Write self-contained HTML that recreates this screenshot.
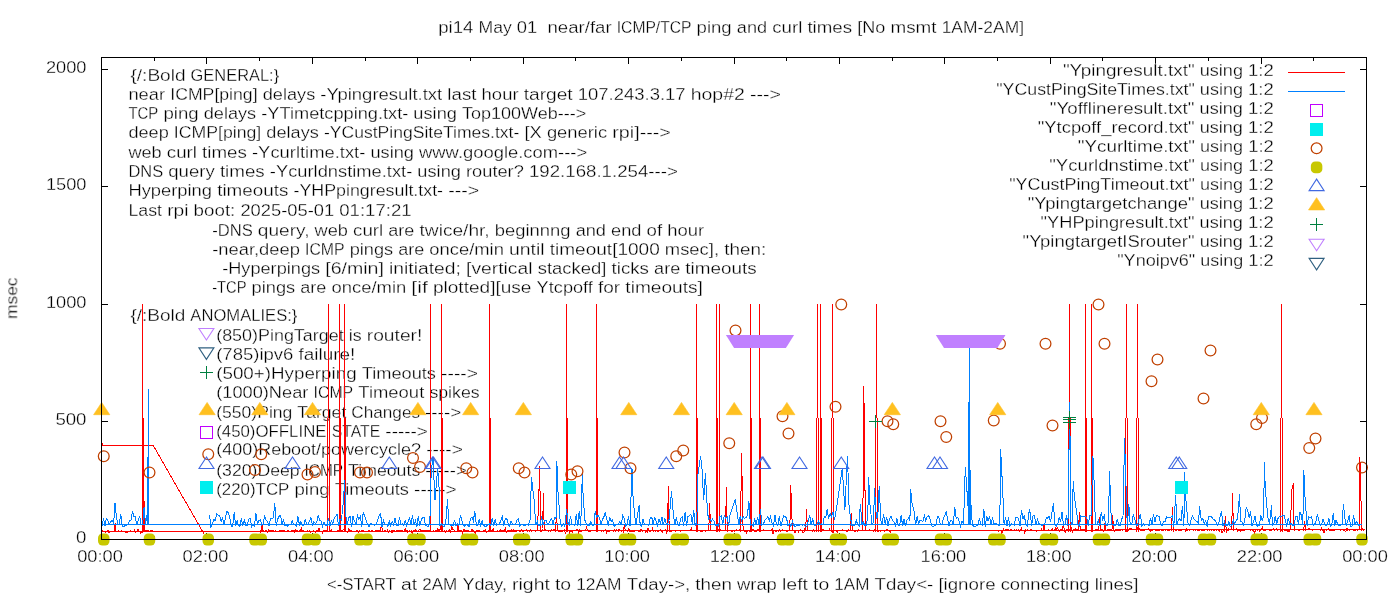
<!DOCTYPE html><html><head><meta charset="utf-8"><title>plot</title>
<style>html,body{margin:0;padding:0;background:#fff;overflow:hidden}svg{display:block}text{font-family:"Liberation Sans",sans-serif;font-size:16.8px;fill:#000;stroke:#fff;stroke-width:0.3px;paint-order:fill stroke}</style></head><body>
<svg width="1400" height="600" viewBox="0 0 1400 600">
<rect width="1400" height="600" fill="#fff"/>
<defs><mask id="m" maskUnits="userSpaceOnUse" x="0" y="0" width="1400" height="600"><rect width="1400" height="600" fill="#fff"/></mask></defs>
<g mask="url(#m)">
<g id="labels">
<text x="130.45" y="80.50" textLength="55.14" lengthAdjust="spacingAndGlyphs">{/:Bold</text>
<text x="190.58" y="80.50" textLength="88.57" lengthAdjust="spacingAndGlyphs">GENERAL:}</text>
<text x="128.45" y="99.75" textLength="36.64" lengthAdjust="spacingAndGlyphs">near</text>
<text x="170.22" y="99.75" textLength="87.40" lengthAdjust="spacingAndGlyphs">ICMP[ping]</text>
<text x="262.76" y="99.75" textLength="52.46" lengthAdjust="spacingAndGlyphs">delays</text>
<text x="320.35" y="99.75" textLength="121.89" lengthAdjust="spacingAndGlyphs">-Ypingresult.txt</text>
<text x="447.37" y="99.75" textLength="29.10" lengthAdjust="spacingAndGlyphs">last</text>
<text x="481.61" y="99.75" textLength="36.93" lengthAdjust="spacingAndGlyphs">hour</text>
<text x="523.66" y="99.75" textLength="49.03" lengthAdjust="spacingAndGlyphs">target</text>
<text x="577.82" y="99.75" textLength="107.76" lengthAdjust="spacingAndGlyphs">107.243.3.17</text>
<text x="690.71" y="99.75" textLength="54.08" lengthAdjust="spacingAndGlyphs">hop#2</text>
<text x="749.92" y="99.75" textLength="30.98" lengthAdjust="spacingAndGlyphs">---&gt;</text>
<text x="128.45" y="119.00" textLength="29.88" lengthAdjust="spacingAndGlyphs">TCP</text>
<text x="163.46" y="119.00" textLength="35.15" lengthAdjust="spacingAndGlyphs">ping</text>
<text x="203.74" y="119.00" textLength="52.45" lengthAdjust="spacingAndGlyphs">delays</text>
<text x="261.32" y="119.00" textLength="146.94" lengthAdjust="spacingAndGlyphs">-YTimetcpping.txt-</text>
<text x="413.39" y="119.00" textLength="43.54" lengthAdjust="spacingAndGlyphs">using</text>
<text x="462.06" y="119.00" textLength="124.09" lengthAdjust="spacingAndGlyphs">Top100Web---&gt;</text>
<text x="128.45" y="138.25" textLength="40.29" lengthAdjust="spacingAndGlyphs">deep</text>
<text x="173.87" y="138.25" textLength="87.39" lengthAdjust="spacingAndGlyphs">ICMP[ping]</text>
<text x="266.38" y="138.25" textLength="52.45" lengthAdjust="spacingAndGlyphs">delays</text>
<text x="323.96" y="138.25" textLength="195.36" lengthAdjust="spacingAndGlyphs">-YCustPingSiteTimes.txt-</text>
<text x="524.45" y="138.25" textLength="17.34" lengthAdjust="spacingAndGlyphs">[X</text>
<text x="546.92" y="138.25" textLength="60.24" lengthAdjust="spacingAndGlyphs">generic</text>
<text x="612.30" y="138.25" textLength="58.60" lengthAdjust="spacingAndGlyphs">rpi]---&gt;</text>
<text x="128.45" y="157.50" textLength="33.28" lengthAdjust="spacingAndGlyphs">web</text>
<text x="166.85" y="157.50" textLength="30.14" lengthAdjust="spacingAndGlyphs">curl</text>
<text x="202.11" y="157.50" textLength="44.77" lengthAdjust="spacingAndGlyphs">times</text>
<text x="252.00" y="157.50" textLength="113.35" lengthAdjust="spacingAndGlyphs">-Ycurltime.txt-</text>
<text x="370.47" y="157.50" textLength="43.48" lengthAdjust="spacingAndGlyphs">using</text>
<text x="419.07" y="157.50" textLength="168.08" lengthAdjust="spacingAndGlyphs">www.google.com---&gt;</text>
<text x="128.45" y="176.75" textLength="34.70" lengthAdjust="spacingAndGlyphs">DNS</text>
<text x="168.28" y="176.75" textLength="46.51" lengthAdjust="spacingAndGlyphs">query</text>
<text x="219.92" y="176.75" textLength="44.83" lengthAdjust="spacingAndGlyphs">times</text>
<text x="269.88" y="176.75" textLength="142.36" lengthAdjust="spacingAndGlyphs">-Ycurldnstime.txt-</text>
<text x="417.37" y="176.75" textLength="43.54" lengthAdjust="spacingAndGlyphs">using</text>
<text x="466.04" y="176.75" textLength="57.78" lengthAdjust="spacingAndGlyphs">router?</text>
<text x="528.95" y="176.75" textLength="148.95" lengthAdjust="spacingAndGlyphs">192.168.1.254---&gt;</text>
<text x="128.45" y="196.00" textLength="83.58" lengthAdjust="spacingAndGlyphs">Hyperping</text>
<text x="217.16" y="196.00" textLength="71.24" lengthAdjust="spacingAndGlyphs">timeouts</text>
<text x="293.52" y="196.00" textLength="149.53" lengthAdjust="spacingAndGlyphs">-YHPpingresult.txt-</text>
<text x="448.18" y="196.00" textLength="30.97" lengthAdjust="spacingAndGlyphs">---&gt;</text>
<text x="128.45" y="215.50" textLength="33.58" lengthAdjust="spacingAndGlyphs">Last</text>
<text x="167.16" y="215.50" textLength="21.33" lengthAdjust="spacingAndGlyphs">rpi</text>
<text x="193.62" y="215.50" textLength="41.70" lengthAdjust="spacingAndGlyphs">boot:</text>
<text x="240.45" y="215.50" textLength="93.69" lengthAdjust="spacingAndGlyphs">2025-05-01</text>
<text x="339.26" y="215.50" textLength="72.39" lengthAdjust="spacingAndGlyphs">01:17:21</text>
<text x="212.20" y="235.50" textLength="40.51" lengthAdjust="spacingAndGlyphs">-DNS</text>
<text x="257.84" y="235.50" textLength="51.63" lengthAdjust="spacingAndGlyphs">query,</text>
<text x="314.60" y="235.50" textLength="33.32" lengthAdjust="spacingAndGlyphs">web</text>
<text x="353.05" y="235.50" textLength="30.17" lengthAdjust="spacingAndGlyphs">curl</text>
<text x="388.35" y="235.50" textLength="26.07" lengthAdjust="spacingAndGlyphs">are</text>
<text x="419.55" y="235.50" textLength="70.15" lengthAdjust="spacingAndGlyphs">twice/hr,</text>
<text x="494.82" y="235.50" textLength="75.70" lengthAdjust="spacingAndGlyphs">beginnng</text>
<text x="575.65" y="235.50" textLength="30.32" lengthAdjust="spacingAndGlyphs">and</text>
<text x="611.10" y="235.50" textLength="30.35" lengthAdjust="spacingAndGlyphs">end</text>
<text x="646.57" y="235.50" textLength="15.54" lengthAdjust="spacingAndGlyphs">of</text>
<text x="667.24" y="235.50" textLength="36.91" lengthAdjust="spacingAndGlyphs">hour</text>
<text x="212.20" y="254.75" textLength="87.68" lengthAdjust="spacingAndGlyphs">-near,deep</text>
<text x="305.00" y="254.75" textLength="39.55" lengthAdjust="spacingAndGlyphs">ICMP</text>
<text x="349.67" y="254.75" textLength="43.46" lengthAdjust="spacingAndGlyphs">pings</text>
<text x="398.25" y="254.75" textLength="26.02" lengthAdjust="spacingAndGlyphs">are</text>
<text x="429.39" y="254.75" textLength="74.52" lengthAdjust="spacingAndGlyphs">once/min</text>
<text x="509.03" y="254.75" textLength="35.64" lengthAdjust="spacingAndGlyphs">until</text>
<text x="549.79" y="254.75" textLength="109.93" lengthAdjust="spacingAndGlyphs">timeout[1000</text>
<text x="664.84" y="254.75" textLength="54.19" lengthAdjust="spacingAndGlyphs">msec],</text>
<text x="724.15" y="254.75" textLength="42.00" lengthAdjust="spacingAndGlyphs">then:</text>
<text x="222.20" y="273.50" textLength="97.89" lengthAdjust="spacingAndGlyphs">-Hyperpings</text>
<text x="325.22" y="273.50" textLength="58.73" lengthAdjust="spacingAndGlyphs">[6/min]</text>
<text x="389.09" y="273.50" textLength="71.84" lengthAdjust="spacingAndGlyphs">initiated;</text>
<text x="466.07" y="273.50" textLength="66.47" lengthAdjust="spacingAndGlyphs">[vertical</text>
<text x="537.67" y="273.50" textLength="68.74" lengthAdjust="spacingAndGlyphs">stacked]</text>
<text x="611.54" y="273.50" textLength="37.44" lengthAdjust="spacingAndGlyphs">ticks</text>
<text x="654.11" y="273.50" textLength="26.10" lengthAdjust="spacingAndGlyphs">are</text>
<text x="685.35" y="273.50" textLength="71.30" lengthAdjust="spacingAndGlyphs">timeouts</text>
<text x="212.20" y="292.75" textLength="34.24" lengthAdjust="spacingAndGlyphs">-TCP</text>
<text x="251.57" y="292.75" textLength="43.58" lengthAdjust="spacingAndGlyphs">pings</text>
<text x="300.28" y="292.75" textLength="26.09" lengthAdjust="spacingAndGlyphs">are</text>
<text x="331.50" y="292.75" textLength="74.72" lengthAdjust="spacingAndGlyphs">once/min</text>
<text x="411.35" y="292.75" textLength="16.47" lengthAdjust="spacingAndGlyphs">[if</text>
<text x="432.95" y="292.75" textLength="98.54" lengthAdjust="spacingAndGlyphs">plotted][use</text>
<text x="536.62" y="292.75" textLength="56.27" lengthAdjust="spacingAndGlyphs">Ytcpoff</text>
<text x="598.02" y="292.75" textLength="22.18" lengthAdjust="spacingAndGlyphs">for</text>
<text x="625.33" y="292.75" textLength="77.57" lengthAdjust="spacingAndGlyphs">timeouts]</text>
<text x="130.45" y="321.00" textLength="54.95" lengthAdjust="spacingAndGlyphs">{/:Bold</text>
<text x="190.37" y="321.00" textLength="107.03" lengthAdjust="spacingAndGlyphs">ANOMALIES:}</text>
<text x="216.20" y="340.50" textLength="127.44" lengthAdjust="spacingAndGlyphs">(850)PingTarget</text>
<text x="348.76" y="340.50" textLength="12.88" lengthAdjust="spacingAndGlyphs">is</text>
<text x="366.76" y="340.50" textLength="55.64" lengthAdjust="spacingAndGlyphs">router!</text>
<text x="216.20" y="360.00" textLength="77.21" lengthAdjust="spacingAndGlyphs">(785)ipv6</text>
<text x="298.49" y="360.00" textLength="56.91" lengthAdjust="spacingAndGlyphs">failure!</text>
<text x="216.20" y="378.75" textLength="140.41" lengthAdjust="spacingAndGlyphs">(500+)Hyperping</text>
<text x="361.74" y="378.75" textLength="74.25" lengthAdjust="spacingAndGlyphs">Timeouts</text>
<text x="441.12" y="378.75" textLength="36.78" lengthAdjust="spacingAndGlyphs">----&gt;</text>
<text x="216.20" y="397.50" textLength="92.19" lengthAdjust="spacingAndGlyphs">(1000)Near</text>
<text x="313.52" y="397.50" textLength="39.68" lengthAdjust="spacingAndGlyphs">ICMP</text>
<text x="358.34" y="397.50" textLength="65.93" lengthAdjust="spacingAndGlyphs">Timeout</text>
<text x="429.40" y="397.50" textLength="50.25" lengthAdjust="spacingAndGlyphs">spikes</text>
<text x="216.20" y="417.50" textLength="76.15" lengthAdjust="spacingAndGlyphs">(550)Ping</text>
<text x="297.38" y="417.50" textLength="48.91" lengthAdjust="spacingAndGlyphs">Target</text>
<text x="351.32" y="417.50" textLength="68.73" lengthAdjust="spacingAndGlyphs">Changes</text>
<text x="425.08" y="417.50" textLength="36.07" lengthAdjust="spacingAndGlyphs">----&gt;</text>
<text x="216.20" y="436.50" textLength="110.36" lengthAdjust="spacingAndGlyphs">(450)OFFLINE</text>
<text x="331.68" y="436.50" textLength="48.57" lengthAdjust="spacingAndGlyphs">STATE</text>
<text x="385.37" y="436.50" textLength="42.53" lengthAdjust="spacingAndGlyphs">-----&gt;</text>
<text x="216.20" y="455.00" textLength="204.84" lengthAdjust="spacingAndGlyphs">(400)Reboot/powercycle?</text>
<text x="426.17" y="455.00" textLength="36.73" lengthAdjust="spacingAndGlyphs">----&gt;</text>
<text x="216.20" y="475.50" textLength="83.41" lengthAdjust="spacingAndGlyphs">(320)Deep</text>
<text x="304.59" y="475.50" textLength="38.52" lengthAdjust="spacingAndGlyphs">ICMP</text>
<text x="348.09" y="475.50" textLength="72.17" lengthAdjust="spacingAndGlyphs">Timeouts</text>
<text x="425.24" y="475.50" textLength="41.41" lengthAdjust="spacingAndGlyphs">-----&gt;</text>
<text x="216.20" y="494.50" textLength="73.18" lengthAdjust="spacingAndGlyphs">(220)TCP</text>
<text x="294.51" y="494.50" textLength="35.12" lengthAdjust="spacingAndGlyphs">ping</text>
<text x="334.75" y="494.50" textLength="74.20" lengthAdjust="spacingAndGlyphs">Timeouts</text>
<text x="414.08" y="494.50" textLength="42.57" lengthAdjust="spacingAndGlyphs">-----&gt;</text>
</g>
<polygon points="206.40,340.07 198.90,328.57 213.90,328.57" fill="none" stroke="#c080ff" stroke-width="1.1"/>
<polygon points="206.40,359.37 198.90,347.87 213.90,347.87" fill="none" stroke="#306080" stroke-width="1.1"/>
<path d="M200.00 372.50H213.00M206.50 366.00V379.00" stroke="#008040" stroke-width="1" fill="none" shape-rendering="crispEdges"/>
<rect x="200.5" y="426.5" width="12" height="12" fill="none" stroke="#c000ff" stroke-width="1" shape-rendering="crispEdges"/>
<g id="ticks" stroke="#000" stroke-width="1" fill="none" shape-rendering="crispEdges">
<path d="M101.5 57.0v7 M101.5 540.0v-7 M154.5 57.0v4 M154.5 540.0v-4 M206.5 57.0v7 M206.5 540.0v-7 M259.5 57.0v4 M259.5 540.0v-4 M312.5 57.0v7 M312.5 540.0v-7 M365.5 57.0v4 M365.5 540.0v-4 M417.5 57.0v7 M417.5 540.0v-7 M470.5 57.0v4 M470.5 540.0v-4 M523.5 57.0v7 M523.5 540.0v-7 M575.5 57.0v4 M575.5 540.0v-4 M628.5 57.0v7 M628.5 540.0v-7 M681.5 57.0v4 M681.5 540.0v-4 M734.5 57.0v7 M734.5 540.0v-7 M786.5 57.0v4 M786.5 540.0v-4 M839.5 57.0v7 M839.5 540.0v-7 M892.5 57.0v4 M892.5 540.0v-4 M944.5 57.0v7 M944.5 540.0v-7 M997.5 57.0v4 M997.5 540.0v-4 M1050.5 57.0v7 M1050.5 540.0v-7 M1102.5 57.0v4 M1102.5 540.0v-4 M1155.5 57.0v7 M1155.5 540.0v-7 M1208.5 57.0v4 M1208.5 540.0v-4 M1261.5 57.0v7 M1261.5 540.0v-7 M1313.5 57.0v4 M1313.5 540.0v-4 M1366.5 57.0v7 M1366.5 540.0v-7 M101.0 539.5h7 M1367.0 539.5h-7 M101.0 421.5h7 M1367.0 421.5h-7 M101.0 304.5h7 M1367.0 304.5h-7 M101.0 186.5h7 M1367.0 186.5h-7 M101.0 69.5h7 M1367.0 69.5h-7 "/>
</g>
<g id="red">
<polyline points="101.5,440.0 102.5,445.0 153.0,445.0 204.0,534.0" fill="none" stroke="#ff0000" stroke-width="1.0" stroke-linejoin="miter" shape-rendering="crispEdges"/>
<polyline points="101.5,531.7 1364.5,529.6" fill="none" stroke="#ff0000" stroke-width="1.0" stroke-linejoin="miter" shape-rendering="crispEdges"/>
<polyline points="102.0,530.6 102.9,531.5 103.8,531.6 104.6,531.9 105.5,532.1 106.4,531.8 107.3,530.9 108.2,530.7 109.0,533.2 109.9,531.7 110.8,531.3 111.7,531.3 112.6,531.5 113.4,531.2 114.3,531.0 115.2,523.4 116.1,531.8 117.0,531.0 117.8,531.4 118.7,530.9 119.6,531.6 120.5,531.6 121.4,530.7 122.2,531.1 123.1,531.7 124.0,531.7 124.9,530.9 125.8,532.3 126.6,532.6 127.5,532.2 128.4,531.2 129.3,531.5 130.2,530.8 131.0,531.7 131.9,531.4 132.8,531.6 133.7,531.2 134.6,530.0 135.4,532.7 136.3,531.4 137.2,530.9 138.1,528.9 139.0,531.1 139.8,531.1 140.7,532.8 141.6,531.5 142.5,532.4 143.5,419.0 144.2,531.4 145.1,531.3 146.0,530.8 146.9,530.8 147.8,530.4 148.6,531.0 149.5,531.7 150.4,531.0 151.3,531.5 152.2,530.2" fill="none" stroke="#ff0000" stroke-width="1.0" stroke-linejoin="miter" shape-rendering="crispEdges"/>
<polyline points="260.0,530.3 260.9,533.3 261.8,522.9 262.6,531.4 263.5,530.9 264.4,531.4 265.3,530.7 266.2,530.2 267.0,531.4 267.9,532.7 268.8,530.0 269.7,530.8 270.6,530.9 271.4,531.1 272.3,530.3 273.2,530.9 274.1,532.1 275.0,530.7 275.8,530.6 276.7,531.6 277.6,531.2 278.5,531.1 279.4,531.1 280.2,530.7 281.1,530.4 282.0,530.6 282.9,530.7 283.8,530.1 284.6,531.5 285.5,531.9 286.4,531.2 287.3,530.8 288.2,530.6 289.0,531.6 289.9,531.0 290.8,531.3 291.7,530.8 292.6,530.5 293.4,530.5 294.3,532.0 295.2,529.5 296.1,531.1 297.0,529.7 297.8,531.7 298.7,531.1 299.6,530.5 300.5,530.8 301.4,528.7 302.2,532.0 303.1,530.3 304.0,530.8 304.9,531.4 305.8,531.5 306.6,531.5 307.5,530.7 308.4,531.8 309.3,531.1 310.2,532.6 311.0,531.7 311.9,531.3 312.8,531.6 313.7,530.9 314.6,531.8 315.4,532.0 316.3,530.9 317.2,530.5 318.1,530.7 319.0,527.9 319.8,530.5 320.7,531.8 321.6,531.3 322.5,533.0 323.4,530.6 324.2,530.7 325.1,530.4 326.0,530.2 326.9,531.0 327.8,531.6 328.6,531.2 329.5,531.4 330.4,531.6 331.3,530.1 332.2,531.7 333.0,531.9 333.9,531.0 334.8,531.1 335.7,531.2 336.6,531.3 337.4,530.7 338.3,530.4 339.2,530.2 340.1,531.0 341.0,530.1 341.8,530.9 342.7,530.5 343.6,529.7 344.5,531.0 345.4,530.0 346.2,531.1 347.1,531.0 348.0,532.4 348.9,528.5 349.8,530.6 350.6,530.6 351.5,530.4 352.4,531.5 353.3,531.3 354.2,531.0 355.0,531.1 355.9,531.3 356.8,530.2 357.7,530.5 358.6,532.4 359.4,530.4 360.3,531.9 361.2,530.7 362.1,530.8 363.0,530.7 363.8,530.8 364.7,531.5 365.6,531.2 366.5,531.5 367.4,531.4 368.2,530.8 369.1,530.9 370.0,530.8 370.9,531.8 371.8,530.9 372.6,531.0 373.5,531.3 374.4,531.6 375.3,530.8 376.2,530.8 377.0,530.1 377.9,530.6 378.8,530.3 379.7,531.7 380.6,530.4 381.5,523.0 382.3,530.5 383.2,531.2 384.1,531.1 385.0,530.5 385.8,531.4 386.7,531.7 387.6,530.0 388.5,531.8 389.4,530.5 390.2,531.2 391.1,530.8 392.0,532.5 392.9,530.5 393.8,531.5 394.6,530.6 395.5,531.6 396.4,531.0 397.3,530.8 398.2,530.6 399.0,530.8 399.9,531.1 400.8,530.8 401.7,530.5 402.6,531.2 403.4,531.1 404.3,531.4 405.2,528.9 406.1,530.7 407.0,530.1 407.8,532.5 408.7,531.1 409.6,530.6 410.5,531.6 411.4,530.6 412.2,533.6 413.1,531.2 414.0,529.8 414.9,530.9 415.8,529.2 416.6,531.0 417.5,531.4 418.4,530.5 419.3,529.8 420.2,529.9 421.0,531.0 421.9,530.5 422.8,531.2 423.7,530.1 424.6,530.8 425.4,530.9 426.3,531.1 427.2,530.2 428.1,529.9 429.0,530.7 429.8,530.8 430.7,531.5 431.6,531.1 432.5,531.3 433.4,530.4 434.2,531.9 435.1,530.7 436.0,530.1 436.9,530.8 437.8,528.2 438.6,530.7 439.5,531.0 440.4,527.7 441.3,530.8 442.2,531.3 443.0,531.2 443.9,531.1 444.8,530.2 445.7,532.1 446.6,530.8 447.4,531.8 448.3,530.8 449.2,529.8 450.1,532.6 451.0,529.9 451.8,526.4 452.7,529.8 453.6,529.8 454.5,530.6 455.4,531.9 456.2,531.4 457.1,531.2 458.0,525.4 458.9,530.2 459.8,530.9 460.6,530.7 461.5,531.0 462.4,533.3 463.3,529.5 464.2,529.9 465.0,530.8 465.9,530.8 466.8,530.8 467.7,530.6 468.6,531.0 469.4,531.2 470.3,531.6 471.2,530.5 472.1,529.1 473.0,531.2 473.8,530.8 474.7,532.4 475.6,533.9 476.5,530.5 477.4,530.3 478.2,530.3 479.1,530.3 480.0,530.9 480.9,531.5 481.8,531.2 482.6,531.5 483.5,531.0 484.4,531.6 485.3,529.9 486.2,532.2 487.0,532.1 487.9,531.0 488.8,530.7 489.7,530.1 490.6,530.8 491.4,530.8 492.3,530.5 493.2,528.8 494.1,531.5 495.0,531.9 495.8,531.5 496.7,531.3 497.6,530.9 498.5,531.2 499.4,531.0 500.2,529.8 501.1,530.3 502.0,530.6 502.9,531.1 503.8,530.3 504.6,530.5 505.5,528.4 506.4,533.3 507.3,530.6 508.2,530.9 509.0,530.9 509.9,530.0 510.8,530.9 511.7,530.0 512.6,530.1 513.4,529.9 514.3,530.4 515.2,531.1 516.1,530.4 517.0,530.7 517.8,530.6 518.7,530.5 519.6,531.6 520.5,531.0 521.4,529.9 522.2,531.4 523.1,531.3 524.0,530.5 524.9,530.4 525.8,530.3 526.6,529.8 527.5,531.1 528.4,530.5 529.3,531.1 530.2,529.6 531.0,531.1 531.9,531.3 532.8,530.5 533.7,530.7 534.6,530.4 535.4,531.2 536.3,530.8 537.2,530.7 538.4,509.5 539.0,489.1 539.6,465.7 540.7,531.4 541.6,531.1 542.5,528.5 543.5,493.0 544.2,530.1 545.1,529.6 546.0,530.9 546.9,531.0 547.8,530.3 548.6,531.4 549.5,530.9 550.4,531.5 551.3,529.8 552.2,530.1 553.0,530.2 553.9,529.4 554.8,530.6 555.7,531.5 556.4,511.0 557.4,530.8 558.3,531.4 559.2,530.9 560.1,531.4 561.0,531.0 561.8,531.0 562.7,531.7 563.6,530.5 564.5,529.7 565.4,533.9 566.2,531.0 567.1,530.2 568.0,530.4 568.9,531.1 569.8,533.0 570.6,530.8 571.5,530.8 572.4,531.9 573.3,530.4 574.2,530.5 575.0,530.0 575.9,530.6 576.8,529.5 577.7,530.2 578.6,533.5 579.4,530.2 580.3,531.6 581.2,531.3 582.1,531.0 583.0,530.5 583.8,530.2 584.7,530.1 585.6,530.7 586.5,526.5 587.4,530.5 588.2,530.4 589.1,531.6 590.0,532.1 590.9,530.1 591.8,531.0 592.6,530.6 593.5,530.5 594.4,530.3 595.3,530.8 596.2,530.6 597.0,530.4 597.9,531.4 598.8,530.4 599.7,530.1 600.6,531.0 601.4,531.3 602.3,530.6 603.2,531.1 604.1,530.2 605.0,530.1 605.8,529.6 606.7,532.9 607.6,531.2 608.5,531.1 609.4,531.2 610.2,530.5 611.1,530.2 612.0,530.5 612.9,530.0 613.8,531.1 614.6,529.9 615.5,531.4 616.4,529.6 617.3,530.6 618.2,531.0 619.0,529.3 619.9,530.6 620.8,531.0 621.7,531.1 622.6,530.3 623.4,531.7 624.3,525.3 625.2,529.9 626.1,530.4 627.0,530.7 627.8,531.1 628.7,528.5 629.6,531.0 630.5,531.6 631.4,531.3 632.2,530.9 633.1,531.9 634.0,531.8 634.9,530.3 635.8,530.6 636.6,530.1 637.5,530.5 638.4,530.9 639.3,531.4 640.2,531.2 641.0,529.4 641.9,530.8 642.8,531.7 643.7,530.2 644.6,530.1 645.4,531.9 646.3,530.7 647.2,531.8 648.1,528.1 649.0,531.1 649.8,531.4 650.7,530.9 651.6,530.7 652.5,528.5 653.4,531.3 654.2,530.5 655.1,531.2 656.0,530.8 656.9,530.7 657.8,531.1 658.6,531.2 659.5,530.8 660.4,529.9 661.3,530.2 662.2,532.3 663.0,530.9 663.9,530.0 664.8,530.8 665.7,529.8 666.6,534.2 667.4,529.2 668.4,486.0 669.2,531.9 670.1,530.9 671.0,531.5 671.8,530.9 672.7,530.3 673.6,530.6 674.5,530.8 675.4,531.0 676.2,530.4 677.1,530.6 678.0,531.1 678.9,530.5 679.8,530.5 680.6,531.1 681.5,530.4 682.4,530.2 683.3,530.4 684.2,530.5 685.0,530.7 685.9,530.8 686.8,530.5 687.7,530.5 688.6,530.4 689.4,531.0 690.3,530.9 691.2,528.1 692.1,530.9 693.0,530.4 693.8,530.3 694.7,530.9 695.6,530.1 696.5,531.5 697.4,530.5 698.2,530.9 699.1,531.0 700.0,530.9 700.9,531.3 701.8,531.0 702.6,531.1 703.5,531.0 704.4,530.4 705.3,531.6 706.2,530.9 707.0,530.5 707.9,530.4 708.8,530.5 709.6,503.0 710.6,529.9 711.4,530.0 712.3,530.0 713.2,530.2 714.1,529.9 715.0,530.3 715.8,530.8 716.7,530.6 717.6,531.4 718.5,530.0 719.4,531.2 720.2,529.8 721.1,530.5 722.0,530.5 722.9,530.9 723.8,531.0 724.6,530.7 725.5,530.6 726.4,487.2 727.3,531.1 728.2,530.3 729.0,530.4 729.9,530.3 730.8,531.1 731.7,531.1 732.6,531.1 733.4,530.4 734.3,531.2 735.2,530.8 736.1,529.7 737.0,530.8 737.8,530.8 738.7,530.9 739.6,529.9 740.5,530.8 741.5,452.9 742.4,492.0 743.1,531.1 744.0,530.4 744.9,531.6 745.8,530.5 746.6,532.5 747.5,530.6 748.4,530.3 749.3,531.2 750.2,529.7 751.0,530.8 751.9,530.9 752.8,529.7 753.7,529.6 754.6,531.0 755.4,530.8 756.3,531.6 757.2,530.3 758.1,529.0 759.0,531.2 759.8,531.6 760.7,530.8 761.6,530.7 762.5,530.6 763.4,529.5 764.2,530.7 765.1,530.0 766.0,530.4 766.9,530.8 767.8,530.9 768.6,530.5 769.5,530.5 770.4,530.2 771.3,529.8 772.2,528.8 773.0,533.8 773.9,530.3 774.8,530.8 775.7,531.7 776.6,530.7 777.4,530.4 778.3,531.0 779.2,529.5 780.1,531.3 781.0,530.9 781.8,530.0 782.7,529.8 783.6,530.2 784.5,530.5 785.4,530.8 786.2,531.0 787.1,531.2 788.0,530.5 788.9,530.2 789.8,530.7 790.7,485.0 791.6,508.0 792.4,530.1 793.3,530.0 794.2,530.7 795.0,533.1 795.9,530.7 796.8,530.2 797.7,530.7 798.6,532.5 799.4,530.1 800.3,529.8 801.2,530.3 802.1,530.2 803.0,532.9 803.8,532.9 804.7,529.3 805.6,531.2 806.6,508.6 807.4,530.6 808.2,530.8 809.1,530.3 810.0,531.2 810.9,530.0 811.8,530.2 812.6,531.1 813.5,529.5 814.4,531.0 815.3,530.0 816.2,530.8 817.0,530.7 817.9,530.3 818.8,530.4 819.7,530.9 820.6,531.0 821.4,529.8 822.3,529.9 823.2,529.3 824.1,530.8 825.0,530.5 825.8,530.0 826.7,530.7 827.6,530.6 828.5,530.6 829.4,529.1 830.2,530.3 831.1,529.9 832.0,530.3 832.9,532.8 833.8,530.5 834.6,530.1 835.5,530.5 836.4,530.2 837.3,532.3 838.2,530.9 839.0,530.5 839.9,530.7 840.8,531.0 841.7,530.6 842.6,530.0 843.4,530.3 844.3,530.6 845.2,530.5 846.1,530.2 847.0,531.5 847.8,531.0 848.7,529.7 849.6,530.1 850.5,530.4 851.4,513.0 852.2,527.3 853.1,530.1 854.0,530.3 854.9,531.7 855.8,530.0 856.6,530.0 857.5,531.3 858.4,530.0 859.3,530.6 860.2,530.3 861.0,530.2 861.9,530.7 862.8,530.0 863.8,386.2 864.7,457.5 865.4,530.0 866.3,530.3 867.2,530.5 868.1,529.9 869.0,530.4 869.8,529.9 870.7,530.2 871.6,530.8 872.5,530.3 873.4,531.0 874.2,529.9 875.1,529.0 876.0,530.1 876.9,530.8 877.8,530.4 878.6,531.3 879.5,530.5 880.4,531.2 881.3,530.8 882.2,530.7 883.0,530.5 883.9,531.1 884.8,531.1 885.7,530.6 886.6,530.0 887.4,529.3 888.3,530.1 889.2,530.5 891.0,533.0" fill="none" stroke="#ff0000" stroke-width="1.0" stroke-linejoin="miter" shape-rendering="crispEdges"/>
<polyline points="997.5,530.2 998.4,531.1 999.3,530.5 1000.1,530.5 1001.0,530.1 1001.9,533.5 1002.8,530.5 1003.7,529.1 1004.5,530.6 1005.4,529.9 1006.3,529.7 1007.2,529.2 1008.1,529.9 1008.9,529.9 1009.8,530.1 1010.7,529.5 1011.6,530.2 1012.5,530.7 1013.3,530.9 1014.2,529.7 1015.1,530.8 1016.0,530.2 1016.9,529.8 1017.7,530.4 1018.6,529.7 1019.5,530.9 1020.4,530.1 1021.3,528.0 1022.1,530.0 1023.0,530.6 1023.9,530.9 1024.8,533.2 1025.7,529.9 1026.5,530.2 1027.4,529.8 1028.3,530.8 1029.2,530.9 1030.1,530.1 1030.9,529.0 1031.8,530.2 1032.7,530.2 1033.6,530.9 1034.5,530.1 1035.3,530.3 1036.2,531.1 1037.1,530.2 1038.0,530.0 1038.9,530.8 1039.7,530.3 1040.6,530.6 1041.5,529.1 1042.4,530.6 1043.3,530.3 1044.1,524.5 1045.0,530.4 1045.9,529.9 1046.8,530.4 1047.7,531.0 1048.5,529.5 1049.4,530.4 1050.3,530.6 1051.2,530.7 1052.1,528.6 1052.9,530.4 1053.8,530.6 1054.7,530.4 1055.6,528.0 1056.5,529.0 1057.3,528.1 1058.2,529.6 1059.1,531.5 1060.0,529.8 1060.9,529.9 1061.7,530.3 1062.6,527.9 1063.5,524.5 1064.4,531.2 1065.3,532.0 1066.1,530.3 1067.0,529.3 1067.9,529.3 1068.8,530.6 1069.7,529.4 1070.5,530.1 1071.4,528.4 1072.3,532.7 1073.2,530.6 1074.1,529.2 1074.9,530.1 1075.8,528.1 1076.7,530.3 1077.6,529.0 1078.5,529.0 1079.5,512.0 1080.2,530.9 1081.1,529.7 1082.0,530.5 1082.9,529.2 1083.7,530.1 1084.6,529.9 1085.5,530.5 1086.4,530.1 1087.3,530.4 1088.1,530.3 1089.0,530.2 1089.9,530.2 1090.8,530.7 1091.7,529.6 1092.5,530.2 1093.4,530.3 1094.3,530.5 1095.2,530.9 1096.1,529.5 1096.9,529.8 1097.8,529.9 1098.7,529.9 1099.8,517.0 1100.5,530.6 1101.3,529.6 1102.2,529.9 1103.1,531.3 1104.0,530.1 1104.9,523.0 1105.7,530.3 1106.6,530.2 1107.5,530.0 1108.4,530.1 1109.3,529.4 1110.1,530.2 1111.0,529.5 1111.9,531.1 1112.6,515.5 1113.7,529.3 1114.5,530.7 1115.4,529.2 1116.3,529.9 1117.2,529.8 1118.1,530.0 1118.9,530.6 1119.8,530.2 1120.7,530.2 1121.6,529.5 1122.5,530.0 1123.3,529.4 1124.2,530.0 1125.1,529.3 1126.0,531.3 1126.9,530.8 1127.7,529.9 1128.6,530.1 1129.5,529.0 1130.4,529.1 1131.3,528.7 1132.1,530.1 1133.0,529.7 1133.9,529.9 1134.8,529.7 1135.7,529.8 1136.5,529.7 1137.4,527.5 1138.3,529.3 1139.2,528.4 1140.1,530.3 1140.9,530.4 1141.8,530.8 1142.7,530.5 1143.6,529.8 1144.5,530.6 1145.3,529.6 1146.2,529.2 1147.1,530.0 1148.0,528.8 1148.9,529.3 1149.7,530.4 1150.6,531.1 1151.5,530.6 1152.4,530.3 1153.3,529.8 1154.1,529.2 1155.0,530.2 1155.9,530.8 1156.8,529.4 1157.7,530.4 1158.5,530.6 1159.4,530.3 1160.3,529.5 1161.2,530.5 1162.1,530.2 1162.9,530.7 1163.8,530.4 1164.7,529.2 1165.6,530.1 1166.5,530.0 1167.3,530.0 1168.2,530.3 1169.1,530.5 1170.0,529.9 1170.9,530.0 1171.7,530.2 1172.3,506.9 1173.5,530.8 1174.4,529.6 1175.3,530.4 1176.1,530.5 1177.0,529.9 1177.9,529.6 1178.8,530.3 1179.7,530.1 1180.5,530.0 1181.4,530.8 1182.3,529.8 1183.2,529.5 1184.1,530.1 1184.9,529.5 1185.8,531.4 1186.7,529.3 1187.6,530.3 1188.5,529.9 1189.3,530.2 1190.2,529.8 1191.1,529.3 1192.0,530.1 1192.9,529.5 1193.7,530.2 1194.6,529.7 1195.5,530.3 1196.4,529.9 1197.3,530.2 1198.1,530.0 1199.0,530.5 1199.9,529.5 1200.8,530.1 1201.7,530.0 1202.5,530.2 1203.4,530.3 1204.3,530.9 1205.2,529.8 1206.1,530.1 1206.9,529.6 1207.8,530.1 1208.7,529.2 1209.6,530.1 1210.5,529.4 1211.3,530.7 1212.2,529.6 1213.1,530.2 1214.0,530.3 1214.9,530.2 1215.7,529.8 1216.6,530.5 1217.5,529.3 1218.4,530.1 1219.3,530.8 1220.1,529.1 1221.0,530.0 1221.9,533.0 1222.8,531.4 1223.7,530.1 1224.5,530.9 1225.5,516.0 1226.3,532.6 1227.2,530.1 1228.1,530.6 1228.9,528.8 1229.8,529.6 1230.7,529.6 1231.6,530.0 1232.7,492.8 1233.3,530.6 1234.2,529.8 1235.1,529.4 1236.0,528.9 1236.9,528.2 1237.7,531.2 1238.6,529.6 1239.5,530.4 1240.4,531.0 1241.3,529.9 1242.1,530.4 1243.0,529.9 1243.9,530.6 1244.8,529.7 1245.7,529.4 1246.5,529.9 1247.4,529.8 1248.3,529.5 1249.2,529.6 1250.1,529.2 1250.9,530.3 1251.8,529.2 1252.7,530.1 1253.6,530.5 1254.5,532.7 1255.3,530.7 1256.2,529.6 1257.1,530.3 1258.0,529.8 1258.9,529.6 1259.7,531.2 1260.6,530.9 1261.5,529.2 1262.4,527.5 1263.3,530.1 1264.1,529.7 1265.0,530.6 1265.9,529.9 1266.8,529.8 1267.7,529.8 1268.5,529.8 1269.4,530.6 1270.3,530.7 1271.2,530.7 1272.1,529.5 1272.9,529.9 1273.8,528.1 1274.7,530.4 1275.6,529.2 1276.5,529.0 1277.3,530.2 1278.2,529.4 1279.1,529.7 1280.0,528.9 1280.9,530.0 1281.7,530.0 1282.6,529.9 1283.5,529.9 1284.4,530.2 1285.3,530.1 1286.1,530.6 1287.0,529.2 1287.9,531.3 1288.8,530.8 1289.7,531.1 1290.5,529.2 1291.5,491.0 1292.3,487.8 1293.5,482.9 1294.1,530.1 1294.9,530.1 1295.8,529.6 1296.7,529.6 1297.6,529.9 1298.5,530.4 1299.3,530.2 1300.2,529.8 1301.1,529.4 1302.0,529.3 1302.9,529.7 1303.7,530.1 1304.6,521.3 1305.5,530.3 1306.4,529.8 1307.3,529.7 1308.1,529.6 1309.0,528.4 1309.9,529.6 1310.8,529.9 1311.7,529.6 1312.5,530.2 1313.4,529.7 1314.3,529.3 1315.2,529.1 1316.1,529.0 1316.9,529.1 1317.8,529.4 1318.7,529.6 1319.6,529.1 1320.5,530.1 1321.3,528.4 1322.2,530.9 1323.1,530.0 1324.0,532.5 1324.9,529.9 1325.7,529.8 1326.6,530.2 1327.5,529.5 1328.4,529.1 1329.3,530.1 1330.1,530.7 1331.0,530.3 1331.9,530.2 1332.8,529.9 1333.7,530.2 1334.5,530.4 1335.4,530.0 1336.3,529.7 1337.2,530.0 1338.1,529.9 1338.9,529.6 1339.8,530.0 1340.7,530.2 1341.6,529.7 1342.5,529.7 1343.3,530.0 1344.2,530.2 1345.1,531.4 1346.0,531.1 1346.9,528.3 1347.7,530.1 1348.6,529.7 1349.5,530.3 1350.4,529.5 1351.3,529.6 1352.1,530.0 1353.0,529.7 1353.9,530.8 1354.8,529.9 1355.7,530.4 1356.5,529.8 1357.4,530.1 1358.3,529.8 1359.2,529.8 1359.9,457.2 1360.8,493.0 1361.8,529.9 1362.7,528.8 1363.6,530.3 1364.5,529.4" fill="none" stroke="#ff0000" stroke-width="1.0" stroke-linejoin="miter" shape-rendering="crispEdges"/>
<path d="M142.5 304V532 M143.5 418V532 M328.5 304V418 M327.5 418V532 M329.5 418V532 M339.5 304V532 M340.5 418V532 M344.5 304V532 M345.5 418V532 M430.5 304V532 M441.5 304V532 M442.5 418V532 M489.5 304V532 M490.5 418V532 M566.5 304V532 M567.5 418V532 M596.5 304V532 M597.5 418V532 M696.5 304V532 M697.5 418V532 M716.5 304V532 M717.5 418V532 M719.5 304V532 M750.5 304V532 M751.5 418V532 M759.5 304V532 M760.5 418V532 M817.5 304V418 M816.5 418V532 M818.5 418V532 M820.5 304V532 M821.5 418V532 M832.5 304V418 M831.5 418V532 M833.5 418V532 M876.5 304V418 M875.5 418V532 M877.5 418V532 M1069.5 304V418 M1068.5 418V532 M1070.5 418V532 M1085.5 304V532 M1086.5 418V532 M1091.5 304V532 M1092.5 418V532 M1126.5 304V418 M1125.5 418V532 M1127.5 418V532 M1137.5 304V418 M1136.5 418V532 M1138.5 418V532 M1281.5 304V418 M1280.5 418V532 M1282.5 418V532 " stroke="#ff0000" stroke-width="1" fill="none" shape-rendering="crispEdges"/>
</g>
<g id="blue">
<polyline points="101.5,524.5 1362.0,524.5" fill="none" stroke="#0080ff" stroke-width="1.0" stroke-linejoin="miter" shape-rendering="crispEdges"/>
<polyline points="102.0,525.8 103.5,518.6 104.9,526.1 106.3,518.4 107.8,520.3 109.2,524.8 110.7,521.5 112.2,520.4 113.6,523.8 115.0,503.4 116.5,517.7 118.0,524.7 119.4,524.0 120.8,513.7 122.3,526.2 123.8,526.5 125.2,525.4 126.7,525.2 128.1,523.8 129.6,520.4 131.0,520.5 132.4,511.0 133.9,516.7 135.3,516.9 136.8,525.1 138.2,520.6 139.7,515.8 141.2,524.8 142.6,524.9 144.1,507.2 145.5,524.0 146.9,515.1 147.5,524.0" fill="none" stroke="#0080ff" stroke-width="1.0" stroke-linejoin="miter" shape-rendering="crispEdges"/>
<path d="M148.5 389V525M147.5 457V525M969.5 347V525M968.5 402V525M970.5 470V525" stroke="#0080ff" stroke-width="1" fill="none" shape-rendering="crispEdges"/>
<polyline points="209.5,514.8 210.9,526.7 212.4,524.1 213.8,519.6 215.3,520.4 216.8,513.9 218.2,515.5 219.7,515.5 221.1,521.7 222.6,517.9 224.0,524.3 225.4,517.9 226.9,511.6 228.3,512.7 229.8,517.7 231.2,526.6 232.7,526.0 234.2,512.2 235.6,526.2 237.1,520.7 238.5,525.3 239.9,526.5 241.4,518.4 242.8,525.7 244.3,519.8 245.8,525.4 247.2,525.5 248.7,519.0 250.1,518.3 251.6,526.7 253.0,525.0 254.4,526.5 255.9,512.9 257.4,524.0 258.8,520.8 260.2,519.6 261.7,524.8 263.1,523.8 264.6,516.4 266.1,520.6 267.5,521.6 268.9,526.2 270.4,518.8 271.9,518.5 273.3,517.9 274.8,503.3 276.2,525.9 277.6,519.5 279.1,516.3 280.6,515.4 282.0,525.2 283.4,519.6 284.9,525.8 286.4,524.5 287.8,526.6 289.2,524.1 290.7,524.5 292.1,520.7 293.6,524.0 295.1,524.3 296.5,525.9 297.9,516.2 299.4,524.8 300.9,521.8 302.3,525.2 303.8,526.0 305.2,518.7 306.6,524.4 308.1,523.9 309.6,520.9 311.0,517.5 312.4,525.2 313.9,521.7 315.4,523.8 316.8,522.0 318.2,515.1 319.7,520.4 321.1,521.0 322.6,526.3 324.1,521.9 325.5,525.6 326.9,526.1 328.4,518.1 329.9,526.2 331.3,520.7 332.8,524.2 334.2,518.4 335.6,516.3 337.1,514.5 338.5,526.3 340.0,519.3 341.4,520.6 343.5,500.0 344.6,480.3 345.8,515.2 347.2,525.4 348.7,517.8 350.1,516.6 351.6,526.5 353.0,516.4 354.5,521.3 355.9,524.2 357.4,515.4 358.9,519.1 360.3,516.8 361.8,526.6 363.2,511.9 364.6,516.4 366.1,519.8 367.5,524.4 369.0,526.5 370.4,523.8 371.9,524.0 373.4,524.7 374.8,525.1 376.2,524.8 377.7,519.9 379.1,515.9 380.6,513.6 382.0,526.6 383.5,520.5 384.9,524.4 386.4,524.1 387.9,526.7 389.3,521.2 390.8,526.1 392.2,521.5 393.6,524.8 395.1,517.9 396.5,525.6 398.0,525.8 399.4,517.3 400.9,524.6 402.4,523.9 403.8,525.1 405.2,520.5 406.7,525.6 408.1,521.9 409.6,517.9 411.0,524.4 412.5,515.5 413.9,524.9 415.4,520.8 416.9,526.5 418.3,516.2 419.8,526.3 421.2,520.4 422.6,517.2 424.1,517.8 425.5,525.4 427.0,526.1 428.4,526.6 429.9,520.4 431.2,471.0 433.0,457.0 434.2,483.9 435.0,500.0 437.7,468.0 439.3,491.5 440.0,525.6 441.5,523.7 442.9,526.1 444.4,526.5 445.9,520.9 447.5,499.0 448.8,524.2 450.2,525.2 451.6,525.0 453.1,525.8 454.5,520.4 456.0,526.3 457.4,524.1 458.9,526.2 460.4,515.5 461.8,519.7 463.2,525.9 464.7,526.1 466.1,523.8 467.6,525.4 469.1,526.4 470.5,518.4 471.9,517.2 473.4,520.9 474.8,510.9 476.3,524.9 477.8,525.6 479.2,519.3 480.6,525.5 482.1,520.8 483.6,525.6 485.0,526.2 486.4,526.2 487.9,524.2 489.3,524.0 490.8,526.0 492.2,517.6 493.7,525.7 495.1,519.4 496.6,525.1 498.1,524.3 499.5,523.9 500.9,520.0 502.4,516.8 503.8,526.4 505.3,518.3 506.8,518.7 508.2,524.1 509.6,526.3 511.1,521.2 512.5,524.0 514.0,524.8 515.5,524.1 516.9,520.3 518.3,518.6 519.8,526.0 521.2,524.5 522.7,524.6 524.1,525.9 525.6,525.8 527.0,523.9 528.5,524.9 530.0,520.6 531.5,477.0 532.8,488.9 534.0,499.0 535.8,525.2 537.2,521.2 538.6,526.0 540.1,525.9 541.5,516.5 543.0,525.1 544.5,521.0 545.9,520.3 547.3,523.8 548.8,523.9 550.2,520.3 551.7,518.5 553.1,524.1 554.6,517.3 556.0,518.4 556.8,461.0 558.0,491.5 560.4,524.0 561.8,526.2 563.3,524.0 564.8,526.3 566.7,508.6 567.6,521.3 569.1,525.5 570.5,516.0 572.0,524.5 573.5,524.1 574.9,526.0 576.3,514.1 577.8,525.9 579.2,511.5 580.7,525.9 582.3,474.3 583.2,498.0 585.0,520.4 586.5,524.0 588.0,526.2 589.4,525.3 590.8,521.4 592.3,525.2 593.8,525.8 595.2,511.5 596.6,517.2 598.1,515.1 599.5,517.8 601.0,525.0 602.5,519.4 603.9,516.9 605.3,512.0 606.8,519.4 608.2,525.7 609.7,516.9 611.1,521.7 612.6,520.0 614.0,526.3 615.5,525.1 617.0,524.2 618.4,524.3 619.8,521.7 621.3,524.0 622.8,515.2 624.2,518.4 625.6,526.1 627.1,523.9 628.5,516.0 630.0,526.3 632.0,468.3 632.9,495.0 634.3,511.4 635.8,525.2 637.2,516.9 639.2,505.0 640.1,524.3 641.6,526.1 643.0,519.5 644.5,524.8 646.0,524.5 647.4,524.4 648.8,525.7 650.3,517.6 651.8,517.3 653.2,524.9 654.6,516.8 656.1,521.3 657.5,525.7 659.0,518.9 660.5,523.8 661.9,516.8 663.3,525.3 664.8,518.1 666.2,524.0 667.7,524.6 669.1,519.1 670.6,502.4 671.5,491.5 673.5,516.1 675.0,524.2 676.4,517.6 677.8,524.9 679.3,525.4 680.8,518.5 682.2,516.8 683.6,525.6 685.1,511.9 686.5,525.7 688.0,516.6 689.5,515.6 690.9,514.5 692.3,523.8 693.8,510.3 695.2,525.5 696.7,524.2 698.0,474.0 699.6,462.8 700.6,455.8 702.0,469.0 703.7,500.0 705.4,472.6 706.6,497.5 708.3,519.2 709.8,518.6 711.2,521.8 712.6,519.1 714.1,521.3 715.5,525.8 717.0,525.0 718.5,526.7 719.9,516.2 721.3,516.0 722.8,524.6 724.2,515.7 725.7,518.7 727.1,516.7 728.6,525.6 730.0,515.0 731.5,510.8 732.5,508.0 734.4,501.9 735.3,499.0 737.0,512.0 738.8,524.9 740.2,515.9 741.6,520.8 743.1,516.7 744.5,518.3 746.0,517.5 747.4,515.7 748.9,500.6 750.4,525.9 751.8,524.5 753.2,526.4 754.7,518.3 756.1,524.3 757.6,516.7 759.0,525.4 760.5,508.6 761.9,524.8 763.4,524.1 764.9,520.3 766.3,518.7 767.8,516.8 769.2,520.9 770.6,516.6 772.1,523.7 773.5,526.0 775.0,515.2 776.4,524.9 777.9,525.6 779.4,516.1 780.8,526.4 782.2,520.9 783.7,515.5 785.1,516.7 786.6,518.3 788.0,525.7 789.5,524.1 790.9,526.4 792.4,521.6 793.9,525.8 795.3,526.3 796.8,525.8 798.2,526.0 799.6,525.0 801.1,524.7 802.5,525.0 804.0,524.2 805.4,526.3 806.9,526.7 808.4,520.8 809.8,515.1 811.2,525.1 812.7,518.6 814.1,525.9 815.6,524.9 817.0,524.7 818.5,521.0 819.9,524.9 821.4,523.7 822.9,524.3 824.3,516.6 825.8,517.1 827.2,508.7 828.6,518.9 830.1,513.3 831.5,516.6 833.0,511.7 834.6,520.0 835.9,511.9 837.0,505.0 839.5,488.0 840.2,482.7 842.3,468.3 843.6,490.0 844.9,510.0 846.0,486.0 847.5,455.8 849.0,505.0 850.4,517.1 851.9,525.3 853.3,525.2 854.8,525.2 856.2,519.9 857.6,524.4 859.1,525.6 860.3,504.0 862.0,524.0 863.4,521.9 864.9,525.7 866.4,525.8 867.8,515.2 868.6,476.9 870.0,505.0 872.1,524.7 873.6,522.0 874.4,488.0 876.5,519.4 877.9,514.9 879.2,486.0 880.9,520.5 882.3,525.0 883.5,513.8 885.2,524.1 886.6,516.6 888.1,526.0 889.5,518.8 891.0,516.5 892.4,520.4 893.9,521.4 895.4,526.4 896.8,518.3 898.2,525.1 899.7,525.4 901.1,514.9 902.6,525.6 904.0,519.0 905.5,525.6 906.9,520.4 908.4,518.2 909.9,520.4 910.6,488.9 912.0,502.6 914.2,511.9 915.6,525.1 917.1,516.5 918.5,523.9 920.0,520.6 921.4,520.4 922.9,521.8 924.4,515.8 925.8,521.0 927.2,516.2 928.7,515.7 930.1,519.3 931.6,525.8 933.0,526.2 934.5,525.9 935.9,526.0 937.4,516.3 938.9,517.3 940.3,524.7 941.8,524.6 943.2,519.5 944.6,515.8 946.1,511.5 947.5,517.9 949.0,525.9 950.4,520.3 951.9,520.9 953.4,524.8 954.7,507.0 956.2,518.3 957.7,517.4 959.1,521.0 960.6,526.6 962.0,521.2 963.5,524.1 965.3,466.6 966.4,482.6 967.6,500.0 969.3,524.9 971.3,505.0 972.2,524.3 973.6,526.4 975.1,526.3 976.5,525.6 978.0,524.9 979.4,517.9 980.9,524.6 982.4,525.4 983.8,508.6 985.2,526.7 986.7,516.0 988.1,521.0 989.6,516.9 991.0,525.3 992.5,517.6 993.9,523.9 995.4,523.8 996.9,523.8 998.3,525.7 999.8,525.8 1000.6,448.9 1002.7,489.7 1004.1,525.0 1005.5,517.2 1007.0,526.3 1008.4,517.5 1009.9,526.4 1011.4,523.8 1012.8,524.3 1014.2,525.2 1015.7,517.2 1017.1,517.1 1018.6,519.0 1020.0,525.8 1021.5,509.6 1022.9,519.3 1024.4,515.3 1025.8,524.8 1027.3,525.9 1029.3,509.5 1030.2,513.2 1031.7,525.6 1033.1,515.5 1034.5,515.4 1036.0,524.7 1037.4,519.6 1038.9,523.8 1040.3,524.1 1041.8,525.8 1043.2,524.6 1044.7,524.9 1046.2,517.8 1047.6,518.2 1049.0,516.4 1050.5,522.0 1051.9,513.1 1053.4,503.1 1054.8,523.8 1056.3,526.0 1057.8,523.9 1059.2,517.7 1060.7,521.5 1062.1,511.8 1063.5,525.4 1065.0,524.4 1066.4,515.1 1067.9,526.1 1069.7,402.5 1070.8,521.9 1072.2,523.8 1073.2,481.0 1074.5,498.0 1076.6,511.7 1078.0,523.9 1079.5,526.1 1080.9,516.1 1082.4,516.9 1083.8,516.1 1085.3,516.3 1086.8,518.3 1088.2,525.6 1089.7,515.4 1091.1,515.7 1092.9,455.8 1093.8,473.4 1095.4,525.0 1096.9,524.9 1098.3,520.2 1099.8,525.6 1101.2,511.8 1102.7,519.4 1104.2,515.5 1105.6,524.9 1107.0,526.0 1108.5,522.0 1109.5,470.9 1111.4,524.0 1112.8,524.4 1114.3,525.8 1115.8,525.0 1117.2,518.9 1118.7,525.1 1120.1,525.4 1121.5,519.8 1123.0,516.0 1123.8,476.9 1124.5,438.0 1127.3,526.7 1128.8,503.7 1130.2,524.3 1131.7,525.0 1133.2,514.5 1134.6,518.2 1136.0,525.1 1137.5,525.6 1138.9,519.7 1140.4,514.1 1141.8,525.8 1143.3,523.8 1144.8,525.2 1146.2,524.2 1147.7,524.3 1149.1,525.7 1150.5,517.8 1152.0,525.4 1153.4,513.7 1154.9,522.0 1156.3,516.0 1157.8,515.7 1159.2,516.5 1160.7,524.8 1162.2,525.4 1163.6,521.8 1165.0,521.8 1166.5,517.0 1167.9,517.4 1169.4,517.2 1170.8,517.1 1172.3,516.1 1173.8,526.6 1175.7,495.0 1176.7,525.3 1178.1,521.1 1179.5,518.5 1181.0,520.8 1182.4,506.4 1183.9,525.6 1184.7,471.7 1185.6,497.0 1188.2,524.5 1189.7,525.6 1191.2,518.8 1192.6,515.6 1194.0,519.3 1195.5,520.7 1196.9,521.4 1198.4,524.0 1199.6,506.0 1201.3,520.8 1202.8,518.5 1204.2,524.1 1205.7,520.6 1207.1,526.5 1208.5,516.9 1210.0,516.1 1211.4,516.2 1212.9,519.1 1214.3,519.2 1215.8,521.8 1217.2,525.7 1218.7,524.0 1220.2,515.7 1221.6,511.6 1223.0,525.5 1224.5,521.4 1225.9,525.5 1227.4,525.4 1228.8,521.5 1230.3,526.6 1231.8,524.8 1233.2,520.1 1234.6,524.2 1236.1,520.4 1237.5,518.8 1239.6,494.0 1240.5,521.9 1241.9,521.9 1243.3,525.0 1244.8,520.1 1246.2,507.7 1247.7,510.0 1249.1,517.7 1250.6,511.1 1252.0,526.4 1253.5,521.6 1255.0,515.9 1256.4,524.7 1257.8,526.2 1259.3,525.7 1260.8,515.3 1262.2,520.1 1263.6,516.9 1264.4,462.0 1265.3,490.0 1268.0,517.7 1269.5,524.1 1271.6,505.0 1272.3,525.5 1273.8,524.1 1275.2,516.5 1276.7,523.9 1278.1,518.1 1279.6,516.7 1281.0,516.3 1282.5,515.9 1284.0,515.2 1285.4,520.8 1286.8,526.5 1288.3,517.7 1289.8,523.9 1291.2,523.7 1292.6,525.1 1294.1,525.6 1295.5,516.7 1297.0,516.4 1298.5,525.1 1299.9,511.8 1301.3,515.2 1302.8,525.2 1303.8,470.0 1304.7,493.0 1307.1,526.4 1308.6,516.6 1310.0,518.1 1311.5,516.5 1313.0,525.1 1314.4,525.0 1315.8,521.8 1317.3,514.5 1318.8,519.9 1320.2,525.6 1321.6,524.9 1323.1,518.8 1324.5,524.1 1326.0,526.1 1327.5,524.6 1328.9,518.3 1330.3,526.6 1331.8,524.7 1333.2,513.4 1334.7,526.2 1336.1,520.2 1337.6,523.9 1339.0,525.9 1340.5,525.3 1342.0,523.8 1343.4,504.2 1344.8,517.6 1346.3,526.2 1347.8,520.4 1349.2,515.3 1350.6,526.4 1352.1,525.9 1353.5,514.8 1355.0,523.8 1356.5,521.6 1357.9,524.3 1359.3,525.7 1360.8,524.2" fill="none" stroke="#0080ff" stroke-width="1.0" stroke-linejoin="miter" shape-rendering="crispEdges"/>
</g>
<g id="pts">
<rect x="200.5" y="426.5" width="12" height="12" fill="none" stroke="#c000ff" stroke-width="1" shape-rendering="crispEdges"/>
<rect x="200.0" y="481.0" width="13" height="13" fill="#00eeee" shape-rendering="crispEdges"/>
<rect x="563.0" y="481.0" width="13" height="13" fill="#00eeee" shape-rendering="crispEdges"/>
<rect x="1175.0" y="481.0" width="13" height="13" fill="#00eeee" shape-rendering="crispEdges"/>
<circle cx="103.75" cy="456.25" r="5.4" fill="none" stroke="#c04000" stroke-width="1.25"/>
<circle cx="149.50" cy="472.50" r="5.4" fill="none" stroke="#c04000" stroke-width="1.25"/>
<circle cx="208.25" cy="454.25" r="5.4" fill="none" stroke="#c04000" stroke-width="1.25"/>
<circle cx="255.00" cy="470.00" r="5.4" fill="none" stroke="#c04000" stroke-width="1.25"/>
<circle cx="261.25" cy="454.25" r="5.4" fill="none" stroke="#c04000" stroke-width="1.25"/>
<circle cx="307.50" cy="474.50" r="5.4" fill="none" stroke="#c04000" stroke-width="1.25"/>
<circle cx="315.00" cy="472.00" r="5.4" fill="none" stroke="#c04000" stroke-width="1.25"/>
<circle cx="360.00" cy="472.50" r="5.4" fill="none" stroke="#c04000" stroke-width="1.25"/>
<circle cx="367.00" cy="472.50" r="5.4" fill="none" stroke="#c04000" stroke-width="1.25"/>
<circle cx="413.00" cy="458.00" r="5.4" fill="none" stroke="#c04000" stroke-width="1.25"/>
<circle cx="420.00" cy="467.00" r="5.4" fill="none" stroke="#c04000" stroke-width="1.25"/>
<circle cx="466.25" cy="468.25" r="5.4" fill="none" stroke="#c04000" stroke-width="1.25"/>
<circle cx="472.50" cy="472.50" r="5.4" fill="none" stroke="#c04000" stroke-width="1.25"/>
<circle cx="518.75" cy="468.25" r="5.4" fill="none" stroke="#c04000" stroke-width="1.25"/>
<circle cx="524.50" cy="472.50" r="5.4" fill="none" stroke="#c04000" stroke-width="1.25"/>
<circle cx="571.25" cy="474.50" r="5.4" fill="none" stroke="#c04000" stroke-width="1.25"/>
<circle cx="577.50" cy="471.25" r="5.4" fill="none" stroke="#c04000" stroke-width="1.25"/>
<circle cx="624.50" cy="452.50" r="5.4" fill="none" stroke="#c04000" stroke-width="1.25"/>
<circle cx="630.50" cy="468.25" r="5.4" fill="none" stroke="#c04000" stroke-width="1.25"/>
<circle cx="676.25" cy="456.25" r="5.4" fill="none" stroke="#c04000" stroke-width="1.25"/>
<circle cx="683.25" cy="450.50" r="5.4" fill="none" stroke="#c04000" stroke-width="1.25"/>
<circle cx="729.25" cy="443.25" r="5.4" fill="none" stroke="#c04000" stroke-width="1.25"/>
<circle cx="735.50" cy="330.40" r="5.4" fill="none" stroke="#c04000" stroke-width="1.25"/>
<circle cx="782.50" cy="416.25" r="5.4" fill="none" stroke="#c04000" stroke-width="1.25"/>
<circle cx="788.50" cy="433.50" r="5.4" fill="none" stroke="#c04000" stroke-width="1.25"/>
<circle cx="835.50" cy="406.75" r="5.4" fill="none" stroke="#c04000" stroke-width="1.25"/>
<circle cx="841.25" cy="304.50" r="5.4" fill="none" stroke="#c04000" stroke-width="1.25"/>
<circle cx="887.50" cy="421.25" r="5.4" fill="none" stroke="#c04000" stroke-width="1.25"/>
<circle cx="893.25" cy="424.25" r="5.4" fill="none" stroke="#c04000" stroke-width="1.25"/>
<circle cx="940.50" cy="421.25" r="5.4" fill="none" stroke="#c04000" stroke-width="1.25"/>
<circle cx="946.25" cy="437.00" r="5.4" fill="none" stroke="#c04000" stroke-width="1.25"/>
<circle cx="993.75" cy="420.50" r="5.4" fill="none" stroke="#c04000" stroke-width="1.25"/>
<circle cx="1000.00" cy="343.75" r="5.4" fill="none" stroke="#c04000" stroke-width="1.25"/>
<circle cx="1045.50" cy="343.75" r="5.4" fill="none" stroke="#c04000" stroke-width="1.25"/>
<circle cx="1052.50" cy="425.50" r="5.4" fill="none" stroke="#c04000" stroke-width="1.25"/>
<circle cx="1098.50" cy="304.50" r="5.4" fill="none" stroke="#c04000" stroke-width="1.25"/>
<circle cx="1104.50" cy="343.75" r="5.4" fill="none" stroke="#c04000" stroke-width="1.25"/>
<circle cx="1151.50" cy="381.25" r="5.4" fill="none" stroke="#c04000" stroke-width="1.25"/>
<circle cx="1157.50" cy="359.50" r="5.4" fill="none" stroke="#c04000" stroke-width="1.25"/>
<circle cx="1203.50" cy="398.50" r="5.4" fill="none" stroke="#c04000" stroke-width="1.25"/>
<circle cx="1210.50" cy="350.50" r="5.4" fill="none" stroke="#c04000" stroke-width="1.25"/>
<circle cx="1256.25" cy="424.25" r="5.4" fill="none" stroke="#c04000" stroke-width="1.25"/>
<circle cx="1262.00" cy="418.00" r="5.4" fill="none" stroke="#c04000" stroke-width="1.25"/>
<circle cx="1309.25" cy="448.00" r="5.4" fill="none" stroke="#c04000" stroke-width="1.25"/>
<circle cx="1315.50" cy="438.50" r="5.4" fill="none" stroke="#c04000" stroke-width="1.25"/>
<circle cx="1362.00" cy="467.50" r="5.4" fill="none" stroke="#c04000" stroke-width="1.25"/>
<rect x="98.00" y="533.55" width="11.5" height="11.9" rx="4.4" ry="4.4" fill="#c8c800"/>
<rect x="143.75" y="533.55" width="11.5" height="11.9" rx="4.4" ry="4.4" fill="#c8c800"/>
<rect x="202.50" y="533.55" width="11.5" height="11.9" rx="4.4" ry="4.4" fill="#c8c800"/>
<rect x="249.25" y="533.55" width="11.5" height="11.9" rx="4.4" ry="4.4" fill="#c8c800"/>
<rect x="255.50" y="533.55" width="11.5" height="11.9" rx="4.4" ry="4.4" fill="#c8c800"/>
<rect x="301.75" y="533.55" width="11.5" height="11.9" rx="4.4" ry="4.4" fill="#c8c800"/>
<rect x="309.25" y="533.55" width="11.5" height="11.9" rx="4.4" ry="4.4" fill="#c8c800"/>
<rect x="354.25" y="533.55" width="11.5" height="11.9" rx="4.4" ry="4.4" fill="#c8c800"/>
<rect x="361.25" y="533.55" width="11.5" height="11.9" rx="4.4" ry="4.4" fill="#c8c800"/>
<rect x="407.25" y="533.55" width="11.5" height="11.9" rx="4.4" ry="4.4" fill="#c8c800"/>
<rect x="414.25" y="533.55" width="11.5" height="11.9" rx="4.4" ry="4.4" fill="#c8c800"/>
<rect x="460.50" y="533.55" width="11.5" height="11.9" rx="4.4" ry="4.4" fill="#c8c800"/>
<rect x="466.75" y="533.55" width="11.5" height="11.9" rx="4.4" ry="4.4" fill="#c8c800"/>
<rect x="513.00" y="533.55" width="11.5" height="11.9" rx="4.4" ry="4.4" fill="#c8c800"/>
<rect x="518.75" y="533.55" width="11.5" height="11.9" rx="4.4" ry="4.4" fill="#c8c800"/>
<rect x="565.50" y="533.55" width="11.5" height="11.9" rx="4.4" ry="4.4" fill="#c8c800"/>
<rect x="571.75" y="533.55" width="11.5" height="11.9" rx="4.4" ry="4.4" fill="#c8c800"/>
<rect x="618.75" y="533.55" width="11.5" height="11.9" rx="4.4" ry="4.4" fill="#c8c800"/>
<rect x="624.75" y="533.55" width="11.5" height="11.9" rx="4.4" ry="4.4" fill="#c8c800"/>
<rect x="670.50" y="533.55" width="11.5" height="11.9" rx="4.4" ry="4.4" fill="#c8c800"/>
<rect x="677.50" y="533.55" width="11.5" height="11.9" rx="4.4" ry="4.4" fill="#c8c800"/>
<rect x="723.50" y="533.55" width="11.5" height="11.9" rx="4.4" ry="4.4" fill="#c8c800"/>
<rect x="729.75" y="533.55" width="11.5" height="11.9" rx="4.4" ry="4.4" fill="#c8c800"/>
<rect x="776.75" y="533.55" width="11.5" height="11.9" rx="4.4" ry="4.4" fill="#c8c800"/>
<rect x="782.75" y="533.55" width="11.5" height="11.9" rx="4.4" ry="4.4" fill="#c8c800"/>
<rect x="829.75" y="533.55" width="11.5" height="11.9" rx="4.4" ry="4.4" fill="#c8c800"/>
<rect x="835.50" y="533.55" width="11.5" height="11.9" rx="4.4" ry="4.4" fill="#c8c800"/>
<rect x="881.75" y="533.55" width="11.5" height="11.9" rx="4.4" ry="4.4" fill="#c8c800"/>
<rect x="887.50" y="533.55" width="11.5" height="11.9" rx="4.4" ry="4.4" fill="#c8c800"/>
<rect x="934.75" y="533.55" width="11.5" height="11.9" rx="4.4" ry="4.4" fill="#c8c800"/>
<rect x="940.50" y="533.55" width="11.5" height="11.9" rx="4.4" ry="4.4" fill="#c8c800"/>
<rect x="988.00" y="533.55" width="11.5" height="11.9" rx="4.4" ry="4.4" fill="#c8c800"/>
<rect x="994.25" y="533.55" width="11.5" height="11.9" rx="4.4" ry="4.4" fill="#c8c800"/>
<rect x="1039.75" y="533.55" width="11.5" height="11.9" rx="4.4" ry="4.4" fill="#c8c800"/>
<rect x="1046.75" y="533.55" width="11.5" height="11.9" rx="4.4" ry="4.4" fill="#c8c800"/>
<rect x="1092.75" y="533.55" width="11.5" height="11.9" rx="4.4" ry="4.4" fill="#c8c800"/>
<rect x="1098.75" y="533.55" width="11.5" height="11.9" rx="4.4" ry="4.4" fill="#c8c800"/>
<rect x="1145.75" y="533.55" width="11.5" height="11.9" rx="4.4" ry="4.4" fill="#c8c800"/>
<rect x="1151.75" y="533.55" width="11.5" height="11.9" rx="4.4" ry="4.4" fill="#c8c800"/>
<rect x="1197.75" y="533.55" width="11.5" height="11.9" rx="4.4" ry="4.4" fill="#c8c800"/>
<rect x="1204.75" y="533.55" width="11.5" height="11.9" rx="4.4" ry="4.4" fill="#c8c800"/>
<rect x="1250.50" y="533.55" width="11.5" height="11.9" rx="4.4" ry="4.4" fill="#c8c800"/>
<rect x="1256.25" y="533.55" width="11.5" height="11.9" rx="4.4" ry="4.4" fill="#c8c800"/>
<rect x="1303.50" y="533.55" width="11.5" height="11.9" rx="4.4" ry="4.4" fill="#c8c800"/>
<rect x="1309.75" y="533.55" width="11.5" height="11.9" rx="4.4" ry="4.4" fill="#c8c800"/>
<rect x="1356.25" y="533.55" width="11.5" height="11.9" rx="4.4" ry="4.4" fill="#c8c800"/>
<polygon points="206.50,456.93 199.00,468.43 214.00,468.43" fill="none" stroke="#4169e1" stroke-width="1.1"/>
<polygon points="292.50,456.93 285.00,468.43 300.00,468.43" fill="none" stroke="#4169e1" stroke-width="1.1"/>
<polygon points="389.25,456.93 381.75,468.43 396.75,468.43" fill="none" stroke="#4169e1" stroke-width="1.1"/>
<polygon points="432.50,456.93 425.00,468.43 440.00,468.43" fill="none" stroke="#4169e1" stroke-width="1.1"/>
<polygon points="433.50,456.93 426.00,468.43 441.00,468.43" fill="none" stroke="#4169e1" stroke-width="1.1"/>
<polygon points="542.50,456.93 535.00,468.43 550.00,468.43" fill="none" stroke="#4169e1" stroke-width="1.1"/>
<polygon points="619.50,456.93 612.00,468.43 627.00,468.43" fill="none" stroke="#4169e1" stroke-width="1.1"/>
<polygon points="623.50,456.93 616.00,468.43 631.00,468.43" fill="none" stroke="#4169e1" stroke-width="1.1"/>
<polygon points="666.25,456.93 658.75,468.43 673.75,468.43" fill="none" stroke="#4169e1" stroke-width="1.1"/>
<polygon points="762.00,456.93 754.50,468.43 769.50,468.43" fill="none" stroke="#4169e1" stroke-width="1.1"/>
<polygon points="763.00,456.93 755.50,468.43 770.50,468.43" fill="none" stroke="#4169e1" stroke-width="1.1"/>
<polygon points="799.50,456.93 792.00,468.43 807.00,468.43" fill="none" stroke="#4169e1" stroke-width="1.1"/>
<polygon points="841.25,456.93 833.75,468.43 848.75,468.43" fill="none" stroke="#4169e1" stroke-width="1.1"/>
<polygon points="934.50,456.93 927.00,468.43 942.00,468.43" fill="none" stroke="#4169e1" stroke-width="1.1"/>
<polygon points="940.00,456.93 932.50,468.43 947.50,468.43" fill="none" stroke="#4169e1" stroke-width="1.1"/>
<polygon points="1176.25,456.93 1168.75,468.43 1183.75,468.43" fill="none" stroke="#4169e1" stroke-width="1.1"/>
<polygon points="1179.25,456.93 1171.75,468.43 1186.75,468.43" fill="none" stroke="#4169e1" stroke-width="1.1"/>
<polygon points="101.70,402.40 93.60,414.70 109.80,414.70" fill="#ffc020" stroke="#ffc020" stroke-width="0.6"/>
<polygon points="207.12,402.40 199.02,414.70 215.22,414.70" fill="#ffc020" stroke="#ffc020" stroke-width="0.6"/>
<polygon points="259.82,402.40 251.72,414.70 267.93,414.70" fill="#ffc020" stroke="#ffc020" stroke-width="0.6"/>
<polygon points="312.53,402.40 304.43,414.70 320.63,414.70" fill="#ffc020" stroke="#ffc020" stroke-width="0.6"/>
<polygon points="417.95,402.40 409.85,414.70 426.05,414.70" fill="#ffc020" stroke="#ffc020" stroke-width="0.6"/>
<polygon points="470.66,402.40 462.56,414.70 478.76,414.70" fill="#ffc020" stroke="#ffc020" stroke-width="0.6"/>
<polygon points="523.37,402.40 515.27,414.70 531.47,414.70" fill="#ffc020" stroke="#ffc020" stroke-width="0.6"/>
<polygon points="628.78,402.40 620.68,414.70 636.88,414.70" fill="#ffc020" stroke="#ffc020" stroke-width="0.6"/>
<polygon points="681.49,402.40 673.39,414.70 689.59,414.70" fill="#ffc020" stroke="#ffc020" stroke-width="0.6"/>
<polygon points="734.20,402.40 726.10,414.70 742.30,414.70" fill="#ffc020" stroke="#ffc020" stroke-width="0.6"/>
<polygon points="786.91,402.40 778.81,414.70 795.01,414.70" fill="#ffc020" stroke="#ffc020" stroke-width="0.6"/>
<polygon points="892.33,402.40 884.23,414.70 900.43,414.70" fill="#ffc020" stroke="#ffc020" stroke-width="0.6"/>
<polygon points="997.74,402.40 989.64,414.70 1005.84,414.70" fill="#ffc020" stroke="#ffc020" stroke-width="0.6"/>
<polygon points="1261.28,402.40 1253.18,414.70 1269.38,414.70" fill="#ffc020" stroke="#ffc020" stroke-width="0.6"/>
<polygon points="1313.99,402.40 1305.89,414.70 1322.09,414.70" fill="#ffc020" stroke="#ffc020" stroke-width="0.6"/>
<path d="M869.00 421.50H882.00M875.50 415.00V428.00" stroke="#008040" stroke-width="1" fill="none" shape-rendering="crispEdges"/>
<path d="M1063.00 417.50H1076.00M1069.50 411.00V424.00" stroke="#008040" stroke-width="1" fill="none" shape-rendering="crispEdges"/>
<path d="M1063.00 419.50H1076.00M1069.50 413.00V426.00" stroke="#008040" stroke-width="1" fill="none" shape-rendering="crispEdges"/>
<path d="M1063.00 422.50H1076.00M1069.50 416.00V429.00" stroke="#008040" stroke-width="1" fill="none" shape-rendering="crispEdges"/>
<polygon points="725.90,334.90 794.10,334.90 785.90,347.90 734.10,347.90" fill="#c080ff"/>
<polygon points="935.80,334.90 1005.50,334.90 997.30,347.90 944.00,347.90" fill="#c080ff"/>
</g>
<g id="key">
<text x="1062.90" y="75.70" textLength="131.76" lengthAdjust="spacingAndGlyphs">"Ypingresult.txt"</text>
<text x="1199.75" y="75.70" textLength="43.21" lengthAdjust="spacingAndGlyphs">using</text>
<text x="1248.05" y="75.70" textLength="25.75" lengthAdjust="spacingAndGlyphs">1:2</text>
<path d="M1288 72.1H1345" stroke="#ff0000" stroke-width="1" shape-rendering="crispEdges"/>
<text x="996.30" y="94.75" textLength="198.51" lengthAdjust="spacingAndGlyphs">"YCustPingSiteTimes.txt"</text>
<text x="1199.89" y="94.75" textLength="43.13" lengthAdjust="spacingAndGlyphs">using</text>
<text x="1248.10" y="94.75" textLength="25.70" lengthAdjust="spacingAndGlyphs">1:2</text>
<path d="M1288 91.1H1345" stroke="#0080ff" stroke-width="1" shape-rendering="crispEdges"/>
<text x="1049.80" y="113.80" textLength="144.70" lengthAdjust="spacingAndGlyphs">"Yofflineresult.txt"</text>
<text x="1199.60" y="113.80" textLength="43.29" lengthAdjust="spacingAndGlyphs">using</text>
<text x="1248.00" y="113.80" textLength="25.80" lengthAdjust="spacingAndGlyphs">1:2</text>
<rect x="1310.5" y="104.5" width="12" height="12" fill="none" stroke="#c000ff" stroke-width="1" shape-rendering="crispEdges"/>
<text x="1037.80" y="132.85" textLength="156.81" lengthAdjust="spacingAndGlyphs">"Ytcpoff_record.txt"</text>
<text x="1199.71" y="132.85" textLength="43.23" lengthAdjust="spacingAndGlyphs">using</text>
<text x="1248.03" y="132.85" textLength="25.77" lengthAdjust="spacingAndGlyphs">1:2</text>
<rect x="1310.0" y="123.0" width="13" height="13" fill="#00eeee" shape-rendering="crispEdges"/>
<text x="1077.80" y="151.90" textLength="117.20" lengthAdjust="spacingAndGlyphs">"Ycurltime.txt"</text>
<text x="1200.06" y="151.90" textLength="43.03" lengthAdjust="spacingAndGlyphs">using</text>
<text x="1248.16" y="151.90" textLength="25.64" lengthAdjust="spacingAndGlyphs">1:2</text>
<circle cx="1316.60" cy="148.30" r="5.4" fill="none" stroke="#c04000" stroke-width="1.25"/>
<text x="1049.20" y="170.95" textLength="145.76" lengthAdjust="spacingAndGlyphs">"Ycurldnstime.txt"</text>
<text x="1200.03" y="170.95" textLength="43.04" lengthAdjust="spacingAndGlyphs">using</text>
<text x="1248.15" y="170.95" textLength="25.65" lengthAdjust="spacingAndGlyphs">1:2</text>
<rect x="1310.85" y="161.40" width="11.5" height="11.9" rx="4.4" ry="4.4" fill="#c8c800"/>
<text x="1009.20" y="190.00" textLength="185.63" lengthAdjust="spacingAndGlyphs">"YCustPingTimeout.txt"</text>
<text x="1199.91" y="190.00" textLength="43.11" lengthAdjust="spacingAndGlyphs">using</text>
<text x="1248.11" y="190.00" textLength="25.69" lengthAdjust="spacingAndGlyphs">1:2</text>
<polygon points="1316.60,179.13 1309.10,190.63 1324.10,190.63" fill="none" stroke="#4169e1" stroke-width="1.1"/>
<text x="1027.80" y="209.05" textLength="166.86" lengthAdjust="spacingAndGlyphs">"Ypingtargetchange"</text>
<text x="1199.75" y="209.05" textLength="43.21" lengthAdjust="spacingAndGlyphs">using</text>
<text x="1248.05" y="209.05" textLength="25.75" lengthAdjust="spacingAndGlyphs">1:2</text>
<polygon points="1316.60,197.65 1308.50,209.95 1324.70,209.95" fill="#ffc020" stroke="#ffc020" stroke-width="0.6"/>
<text x="1040.60" y="228.10" textLength="153.84" lengthAdjust="spacingAndGlyphs">"YHPpingresult.txt"</text>
<text x="1199.55" y="228.10" textLength="43.33" lengthAdjust="spacingAndGlyphs">using</text>
<text x="1247.98" y="228.10" textLength="25.82" lengthAdjust="spacingAndGlyphs">1:2</text>
<path d="M1310.00 224.50H1323.00M1316.50 218.00V231.00" stroke="#008040" stroke-width="1" fill="none" shape-rendering="crispEdges"/>
<text x="1022.60" y="247.15" textLength="171.95" lengthAdjust="spacingAndGlyphs">"YpingtargetISrouter"</text>
<text x="1199.65" y="247.15" textLength="43.27" lengthAdjust="spacingAndGlyphs">using</text>
<text x="1248.02" y="247.15" textLength="25.78" lengthAdjust="spacingAndGlyphs">1:2</text>
<polygon points="1316.60,250.82 1309.10,239.32 1324.10,239.32" fill="none" stroke="#c080ff" stroke-width="1.1"/>
<text x="1117.20" y="266.20" textLength="78.06" lengthAdjust="spacingAndGlyphs">"Ynoipv6"</text>
<text x="1200.31" y="266.20" textLength="42.88" lengthAdjust="spacingAndGlyphs">using</text>
<text x="1248.24" y="266.20" textLength="25.56" lengthAdjust="spacingAndGlyphs">1:2</text>
<polygon points="1316.60,269.87 1309.10,258.37 1324.10,258.37" fill="none" stroke="#306080" stroke-width="1.1"/>
</g>
<rect x="101.5" y="57.5" width="1265.0" height="482.0" stroke="#000" stroke-width="1" fill="none" shape-rendering="crispEdges"/>
<g id="axis">
<text x="438.20" y="32.50" textLength="35.15" lengthAdjust="spacingAndGlyphs">pi14</text>
<text x="478.47" y="32.50" textLength="33.25" lengthAdjust="spacingAndGlyphs">May</text>
<text x="516.83" y="32.50" textLength="20.47" lengthAdjust="spacingAndGlyphs">01</text>
<text x="547.54" y="32.50" textLength="64.10" lengthAdjust="spacingAndGlyphs">near/far</text>
<text x="616.75" y="32.50" textLength="74.77" lengthAdjust="spacingAndGlyphs">ICMP/TCP</text>
<text x="696.64" y="32.50" textLength="35.07" lengthAdjust="spacingAndGlyphs">ping</text>
<text x="736.83" y="32.50" textLength="30.25" lengthAdjust="spacingAndGlyphs">and</text>
<text x="772.20" y="32.50" textLength="30.11" lengthAdjust="spacingAndGlyphs">curl</text>
<text x="807.43" y="32.50" textLength="44.72" lengthAdjust="spacingAndGlyphs">times</text>
<text x="857.27" y="32.50" textLength="28.15" lengthAdjust="spacingAndGlyphs">[No</text>
<text x="890.53" y="32.50" textLength="46.03" lengthAdjust="spacingAndGlyphs">msmt</text>
<text x="941.68" y="32.50" textLength="82.32" lengthAdjust="spacingAndGlyphs">1AM-2AM]</text>
<text x="326.90" y="590.20" textLength="68.91" lengthAdjust="spacingAndGlyphs">&lt;-START</text>
<text x="400.92" y="590.20" textLength="16.17" lengthAdjust="spacingAndGlyphs">at</text>
<text x="422.21" y="590.20" textLength="35.11" lengthAdjust="spacingAndGlyphs">2AM</text>
<text x="462.44" y="590.20" textLength="44.51" lengthAdjust="spacingAndGlyphs">Yday,</text>
<text x="512.07" y="590.20" textLength="37.78" lengthAdjust="spacingAndGlyphs">right</text>
<text x="554.96" y="590.20" textLength="16.15" lengthAdjust="spacingAndGlyphs">to</text>
<text x="576.23" y="590.20" textLength="45.35" lengthAdjust="spacingAndGlyphs">12AM</text>
<text x="626.69" y="590.20" textLength="63.51" lengthAdjust="spacingAndGlyphs">Tday-&gt;,</text>
<text x="695.32" y="590.20" textLength="36.57" lengthAdjust="spacingAndGlyphs">then</text>
<text x="737.01" y="590.20" textLength="39.82" lengthAdjust="spacingAndGlyphs">wrap</text>
<text x="781.94" y="590.20" textLength="26.06" lengthAdjust="spacingAndGlyphs">left</text>
<text x="813.12" y="590.20" textLength="16.15" lengthAdjust="spacingAndGlyphs">to</text>
<text x="834.38" y="590.20" textLength="35.11" lengthAdjust="spacingAndGlyphs">1AM</text>
<text x="874.61" y="590.20" textLength="58.67" lengthAdjust="spacingAndGlyphs">Tday&lt;-</text>
<text x="938.40" y="590.20" textLength="57.13" lengthAdjust="spacingAndGlyphs">[ignore</text>
<text x="1000.65" y="590.20" textLength="88.95" lengthAdjust="spacingAndGlyphs">connecting</text>
<text x="1094.72" y="590.20" textLength="43.68" lengthAdjust="spacingAndGlyphs">lines]</text>
<text x="77.20" y="561.60" textLength="45.70" lengthAdjust="spacingAndGlyphs">00:00</text>
<text x="182.62" y="561.60" textLength="45.70" lengthAdjust="spacingAndGlyphs">02:00</text>
<text x="288.03" y="561.60" textLength="45.70" lengthAdjust="spacingAndGlyphs">04:00</text>
<text x="393.45" y="561.60" textLength="45.70" lengthAdjust="spacingAndGlyphs">06:00</text>
<text x="498.87" y="561.60" textLength="45.70" lengthAdjust="spacingAndGlyphs">08:00</text>
<text x="604.28" y="561.60" textLength="45.70" lengthAdjust="spacingAndGlyphs">10:00</text>
<text x="709.70" y="561.60" textLength="45.70" lengthAdjust="spacingAndGlyphs">12:00</text>
<text x="815.12" y="561.60" textLength="45.70" lengthAdjust="spacingAndGlyphs">14:00</text>
<text x="920.53" y="561.60" textLength="45.70" lengthAdjust="spacingAndGlyphs">16:00</text>
<text x="1025.95" y="561.60" textLength="45.70" lengthAdjust="spacingAndGlyphs">18:00</text>
<text x="1131.37" y="561.60" textLength="45.70" lengthAdjust="spacingAndGlyphs">20:00</text>
<text x="1236.78" y="561.60" textLength="45.70" lengthAdjust="spacingAndGlyphs">22:00</text>
<text x="1342.20" y="561.60" textLength="45.70" lengthAdjust="spacingAndGlyphs">00:00</text>
<text x="76.10" y="542.50" textLength="10.40" lengthAdjust="spacingAndGlyphs">0</text>
<text x="55.40" y="425.00" textLength="31.10" lengthAdjust="spacingAndGlyphs">500</text>
<text x="45.90" y="307.50" textLength="40.60" lengthAdjust="spacingAndGlyphs">1000</text>
<text x="45.90" y="190.00" textLength="40.60" lengthAdjust="spacingAndGlyphs">1500</text>
<text x="45.90" y="72.50" textLength="40.60" lengthAdjust="spacingAndGlyphs">2000</text>
<text transform="translate(17.3,298.25) rotate(-90)" text-anchor="middle" textLength="41.5" lengthAdjust="spacingAndGlyphs">msec</text>
</g>
</g>
</svg></body></html>
